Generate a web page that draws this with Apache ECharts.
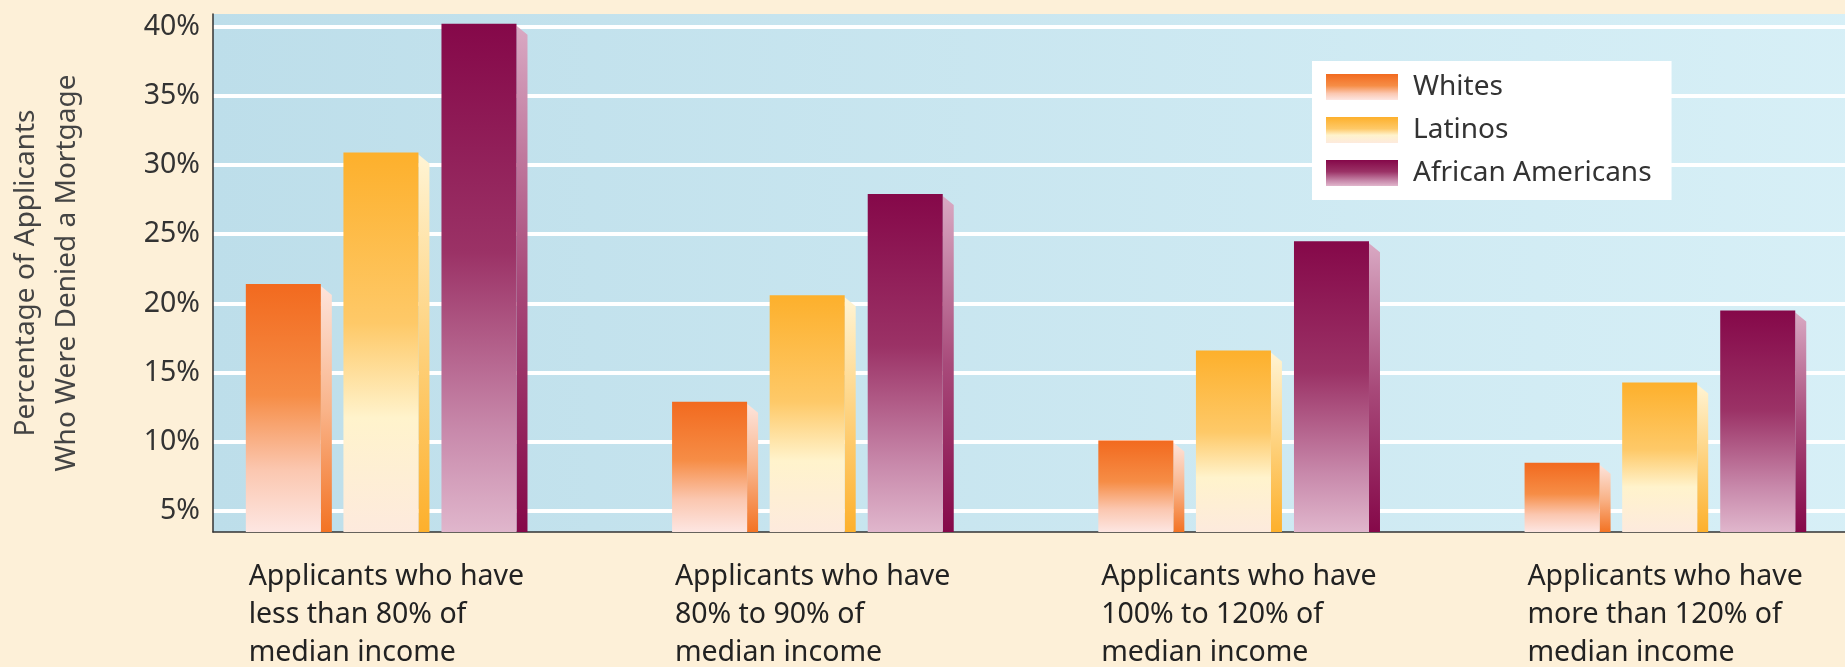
<!DOCTYPE html>
<html>
<head>
<meta charset="utf-8">
<style>
  html, body { margin: 0; padding: 0; background: #fdf0d8; }
  #chart { width: 1845px; height: 667px; }
</style>
<script src="https://cdn.jsdelivr.net/npm/echarts@6/dist/echarts.min.js"></script>
</head>
<body>
<div id="chart"></div>
<script>
var categories = [
    'Applicants who have\nless than 80% of\nmedian income',
    'Applicants who have\n80% to 90% of\nmedian income',
    'Applicants who have\n100% to 120% of\nmedian income',
    'Applicants who have\nmore than 120% of\nmedian income'
];
var seriesNames = ['Whites', 'Latinos', 'African Americans'];
var whites = [21.4, 12.9, 10.1, 8.5];
var latinos = [30.9, 20.6, 16.6, 14.3];
var africanAmericans = [40.2, 27.9, 24.5, 19.5];
var yTicks = [5, 10, 15, 20, 25, 30, 35, 40];
var yMin = 3.5;
var yMax = 40.9;

var FONT = '"Noto Sans", "Open Sans", sans-serif';

function grad(stops) {
    return new echarts.graphic.LinearGradient(0, 0, 0, 1, stops.map(function (c, i) {
        return { offset: c[0], color: c[1] };
    }));
}

// front face / side face colours for each group
var fronts = [
    [[0, '#f26a1f'], [0.45, '#f68d46'], [0.75, '#fbc7b0'], [1, '#fde6e2']],
    [[0, '#fdb02c'], [0.45, '#fec968'], [0.7, '#fff3cc'], [1, '#fdeadd']],
    [[0, '#850849'], [0.45, '#9b3266'], [0.8, '#c889ab'], [1, '#e0b6cc']]
];
var sides = [
    [[0, '#fde4dc'], [0.5, '#f9b48a'], [1, '#f37324']],
    [[0, '#fff4d4'], [0.5, '#fed27e'], [1, '#fdb02c']],
    [[0, '#d9a9c3'], [0.5, '#a84a7a'], [1, '#850849']]
];
var offsets = [-0.423, -0.194, 0.036];
var barFrac = 0.176;
var depth = 11;

function renderBar(s) {
    return function (params, api) {
        var cat = api.value(0);
        var top = api.coord([cat, api.value(1)]);
        var base = api.coord([cat, yMin]);
        var band = api.size([1, 0])[0];
        var x = top[0] + offsets[s] * band;
        var w = barFrac * band;
        var yT = top[1], yB = base[1];
        return {
            type: 'group',
            children: [
                {
                    type: 'polygon',
                    shape: { points: [[x + w, yT + 2], [x + w + depth, yT + depth], [x + w + depth, yB], [x + w, yB]] },
                    style: { fill: grad(sides[s]) }
                },
                {
                    type: 'rect',
                    shape: { x: x, y: yT, width: w, height: yB - yT },
                    style: { fill: grad(fronts[s]) }
                }
            ]
        };
    };
}

function toData(arr) {
    return arr.map(function (v, i) { return [i, v]; });
}

var chart = echarts.init(document.getElementById('chart'));
chart.setOption({
    backgroundColor: '#fdf0d8',
    animation: false,
    grid: {
        left: 213,
        top: 14,
        bottom: 135,
        width: 1705,
        outerBoundsMode: 'none',
        containLabel: false,
        show: true,
        borderWidth: 0,
        backgroundColor: new echarts.graphic.LinearGradient(0, 0, 1, 0, [
            { offset: 0, color: '#bddeea' },
            { offset: 1, color: '#d8f0f7' }
        ])
    },
    legend: {
        orient: 'vertical',
        left: 1312,
        top: 61,
        backgroundColor: '#ffffff',
        padding: [12, 20, 13, 14],
        itemWidth: 72,
        itemHeight: 26,
        itemGap: 15,
        selectedMode: false,
        textStyle: { fontFamily: FONT, fontSize: 28, color: '#333', padding: [0, 0, 0, 10] },
        data: seriesNames.map(function (n, i) {
            return { name: n, icon: 'rect', itemStyle: { color: grad(fronts[i]) } };
        })
    },
    xAxis: {
        type: 'category',
        data: categories,
        axisLine: { show: true, lineStyle: { color: '#333', width: 1.5 } },
        axisTick: { show: false },
        splitLine: { show: false },
        axisLabel: {
            interval: 0,
            margin: 26,
            width: 355,
            align: 'center',
            overflow: 'none',
            formatter: function (v) {
                return v.split('\n').map(function (s) { return '{a|' + s + '}'; }).join('\n');
            },
            rich: {
                a: { fontFamily: FONT, fontSize: 28.5, lineHeight: 38, color: '#222', align: 'left' }
            }
        }
    },
    yAxis: {
        type: 'value',
        min: yMin,
        max: yMax,
        splitNumber: 8,
        name: 'Percentage of Applicants\nWho Were Denied a Mortgage',
        nameLocation: 'middle',
        nameGap: 125,
        nameTextStyle: { fontFamily: FONT, fontSize: 28, lineHeight: 41, color: '#444' },
        axisLine: { show: true, lineStyle: { color: '#333', width: 1.5 } },
        axisTick: { show: false },
        axisLabel: {
            margin: 13,
            fontFamily: FONT,
            fontSize: 28.5,
            color: '#333',
            showMinLabel: false,
            showMaxLabel: false,
            formatter: function (v) {
                return yTicks.indexOf(Math.round(v * 10) / 10) >= 0 ? v + '%' : '';
            }
        },
        splitLine: {
            show: true,
            showMinLine: false,
            showMaxLine: false,
            lineStyle: { color: '#ffffff', width: 4 }
        }
    },
    series: [
        { name: seriesNames[0], type: 'custom', renderItem: renderBar(0), data: toData(whites), encode: { x: 0, y: 1 } },
        { name: seriesNames[1], type: 'custom', renderItem: renderBar(1), data: toData(latinos), encode: { x: 0, y: 1 } },
        { name: seriesNames[2], type: 'custom', renderItem: renderBar(2), data: toData(africanAmericans), encode: { x: 0, y: 1 } }
    ]
});

window.addEventListener('resize', function () {
    chart.resize();
});
</script>
</body>
</html>
